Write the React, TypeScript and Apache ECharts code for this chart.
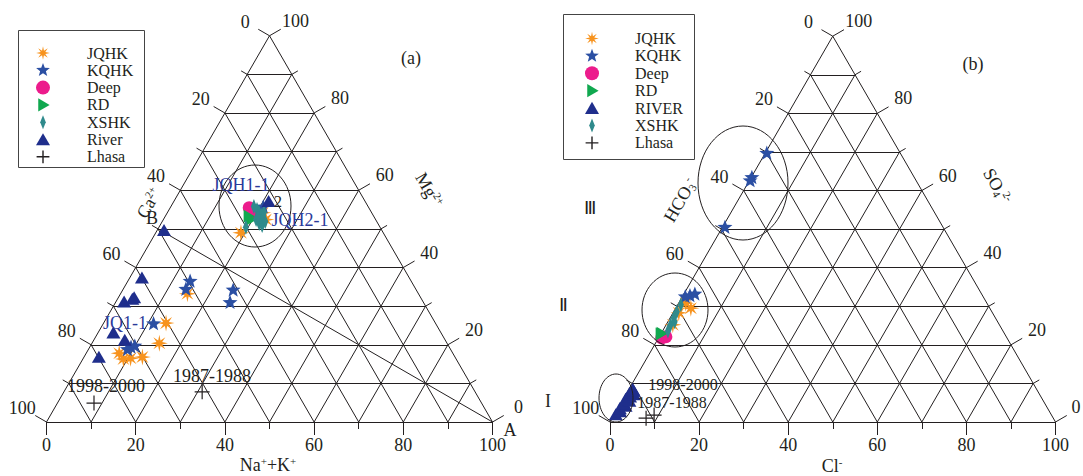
import React, { useEffect, useRef } from 'react';
import * as echarts from 'echarts';

// ---------- DATA ----------
// Panel (a): each point = [Na+ + K+ (%), Mg2+ (%)], Ca2+ = 100 - both
const jqhkA = [[15.0, 33.2], [14.0, 25.6], [15.1, 20.4], [7.4, 17.8], [9.1, 16.3], [10.6, 16.5], [13.1, 16.8], [19.1, 49.0], [21.4, 54.2], [23.0, 52.4]];
const kqhkA = [[13.9, 36.6], [14.0, 34.5], [24.7, 34.3], [25.6, 31.1], [11.2, 25.6], [9.2, 19.5], [9.9, 19.8], [8.7, 18.9], [20.7, 55.8]];
const deepA = [[17.7, 55.5], [18.6, 54.5]];
const rdA = [[18.8, 53.3], [19.7, 52.4]];
const xshkA = [[18.6, 55.8], [19.7, 55.0], [20.5, 54.3], [21.4, 53.5], [22.2, 52.7], [20.8, 52.4], [22.0, 51.4], [22.9, 50.9], [23.1, 51.9], [19.5, 50.4], [20.8, 53.2], [21.6, 54.3]];
const riverA = [[1.5, 49.7], [2.7, 37.4], [3.5, 32.3], [1.8, 31.2], [3.3, 31.9], [3.4, 23.2], [6.9, 21.3], [3.3, 16.9], [21.2, 57.2]];
const lhasaA = [[8.2, 4.9], [31.0, 7.8]];
const mixLineA = [[0, 50], [100, 0]]; // B -> A

// Panel (b): each point = [Cl- (%), SO4 2- (%)], HCO3- = 100 - both
const jqhkB = [[3.4, 29.5], [1.6, 30.8], [1.3, 28.3], [1.5, 25.2]];
const kqhkB = [[0.3, 69.8], [0.1, 63.5], [0.1, 62.7], [0.5, 50.6], [1.5, 32.9], [0.6, 32.6], [2.4, 33.3]];
const deepB = [[1.5, 22.1], [0.7, 21.8]];
const rdB = [[0.2, 23.0], [0.1, 22.8]];
const riverB = [[0.3, 2.0], [0.9, 2.8], [0.4, 3.6], [1.4, 4.2], [0.7, 4.9], [1.6, 5.5], [0.5, 6.0], [1.2, 6.6], [1.8, 7.2], [0.6, 7.6], [1.3, 8.1], [0.8, 8.6]];
const xshkB = [[0.7, 30.4], [0.7, 28.6], [0.8, 27.0], [1.0, 25.2], [1.2, 23.6], [1.5, 26.0]];
const lhasaB = [[7.6, 1.0], [9.0, 1.8]];

const tickValues = [0, 10, 20, 30, 40, 50, 60, 70, 80, 90, 100];
const labelValues = [0, 20, 40, 60, 80, 100];
const legendA = ['JQHK', 'KQHK', 'Deep', 'RD', 'XSHK', 'River', 'Lhasa'];
const legendB = ['JQHK', 'KQHK', 'Deep', 'RD', 'RIVER', 'XSHK', 'Lhasa'];

// ---------- LAYOUT / STYLE ----------
const SQ = Math.sqrt(3) / 2;
const BASE = 422;
const PANELS = [{ left: 46.5, width: 446 }, { left: 610, width: 445.5 }];
const SERIF = '"Liberation Serif", "Times New Roman", serif';
const INK = '#231f20';

const COLORS: Record<string, string> = {
  JQHK: '#F7931E', KQHK: '#2B4FA3', Deep: '#EC1C8C', RD: '#10A84F',
  XSHK: '#2F8A8C', River: '#1F2E8C', RIVER: '#1F2E8C', Lhasa: INK,
};

function polyD(n: number, inner: number, rot: number) {
  const pts: string[] = [];
  for (let i = 0; i < n * 2; i++) {
    const r = i % 2 === 0 ? 10 : 10 * inner;
    const a = rot + (i * Math.PI) / n;
    pts.push((r * Math.cos(a)).toFixed(2) + ',' + (r * Math.sin(a)).toFixed(2));
  }
  return 'M' + pts.join(' L') + ' Z';
}
// centred symbol outlines (coords in -10..10)
const SHAPES: Record<string, string> = {
  JQHK: polyD(8, 0.36, -Math.PI / 2),
  KQHK: polyD(5, 0.42, -Math.PI / 2),
  Deep: 'M-10,0 A10,10 0 1,0 10,0 A10,10 0 1,0 -10,0 Z',
  RD: 'M-7.2,-10 L10,0 L-7.2,10 Z',
  XSHK: 'M0,-10 L4,0 L0,10 L-4,0 Z',
  River: 'M0,-9 L10,8.3 L-10,8.3 Z',
  RIVER: 'M0,-9 L10,8.3 L-10,8.3 Z',
  Lhasa: 'M-0.8,-10 H0.8 V-0.8 H10 V0.8 H0.8 V10 H-0.8 V0.8 H-10 V-0.8 H-0.8 Z',
};
const LEG_SHAPES: Record<string, string> = {
  ...SHAPES,
  Lhasa: 'M-1.1,-10 H1.1 V-1.1 H10 V1.1 H1.1 V10 H-1.1 V1.1 H-10 V-1.1 H-1.1 Z',
};
const SIZES: Record<string, number> = { JQHK: 17, KQHK: 15, Deep: 13, RD: 13, XSHK: 15, River: 14, RIVER: 14, Lhasa: 15 };
const LEG_SCALE: Record<string, number> = { JQHK: 0.68, KQHK: 0.72, Deep: 0.7, RD: 0.66, XSHK: 0.7, River: 0.7, RIVER: 0.7, Lhasa: 0.64 };

Object.keys(LEG_SHAPES).forEach((k) => {
  echarts.graphic.registerShape('leg_' + k, echarts.graphic.extendPath(LEG_SHAPES[k], {}) as any);
});

const toXY = (p: number[]) => [p[0] + p[1] / 2, p[1] * SQ];
const toPx = (panel: number, xy: number[]) => {
  const s = PANELS[panel].width / 100;
  return [PANELS[panel].left + xy[0] * s, BASE - xy[1] * s];
};

function gridSegments() {
  const segs: number[][][] = [];
  for (let k = 0; k < 100; k += 10) {
    segs.push([toXY([0, k]), toXY([100 - k, k])]);
    segs.push([toXY([k, 0]), toXY([k, 100 - k])]);
    segs.push([toXY([100 - k, 0]), toXY([0, 100 - k])]);
  }
  return segs;
}
function tickSegments(panel: number) {
  const s = PANELS[panel].width / 100;
  const segs: number[][][] = [];
  tickValues.forEach((v) => {
    const len = (v % 20 === 0 ? 13 : 7) / s;
    segs.push([[v, 0], [v, -len]]);
    const L = toXY([0, 100 - v]);
    segs.push([L, [L[0] - len * SQ, L[1] + len * 0.5]]);
    const R = toXY([100 - v, v]);
    segs.push([R, [R[0] + len * SQ, R[1] + len * 0.5]]);
  });
  return segs;
}

function text(x: number, y: number, t: string, extra: any = {}) {
  return {
    type: 'text', x, y, rotation: extra.rotation || 0, z: 50,
    style: {
      text: t, fill: extra.fill || INK, fontSize: extra.fontSize || 18, fontFamily: SERIF,
      align: extra.align || 'center', verticalAlign: 'middle', rich: extra.rich,
    },
  };
}
const RICH = {
  n: { fontSize: 18, fontFamily: SERIF, fill: INK, lineHeight: 20 },
  s: { fontSize: 11, fontFamily: SERIF, fill: INK, lineHeight: 11, verticalAlign: 'top' },
  b: { fontSize: 11, fontFamily: SERIF, fill: INK, lineHeight: 11, verticalAlign: 'bottom' },
};

function tickLabels(panel: number) {
  const out: any[] = [];
  labelValues.forEach((v) => {
    const b = toPx(panel, [v, 0]);
    out.push(text(b[0], b[1] + 23, String(v)));
    const L = toPx(panel, toXY([0, 100 - v]));
    out.push(text(L[0] - 28 * SQ, L[1] - 14, String(v)));
    const R = toPx(panel, toXY([100 - v, v]));
    out.push(text(Math.min(R[0] + 30 * SQ, 1076), R[1] - 15, String(v)));
  });
  return out;
}

function legendBlock(names: string[], box: number[], symX: number, txtX: number, y0: number, dy: number) {
  const out: any[] = [
    { type: 'rect', shape: { x: box[0], y: box[1], width: box[2], height: box[3] }, style: { fill: '#fff', stroke: '#444', lineWidth: 1 }, z: 40 },
  ];
  names.forEach((n, i) => {
    const y = y0 + i * dy;
    out.push({ type: 'leg_' + n, x: symX, y, scaleX: LEG_SCALE[n], scaleY: LEG_SCALE[n], style: { fill: COLORS[n] }, z: 45 });
    out.push(text(txtX, y, n, { align: 'left', fontSize: 16 }));
  });
  return out;
}

function scatter(name: string, data: number[][], panel: number) {
  return {
    type: 'scatter', name, xAxisIndex: panel, yAxisIndex: panel, clip: false, z: 5,
    data: data.map(toXY), symbol: 'path://' + SHAPES[name], symbolSize: SIZES[name], symbolKeepAspect: true,
    itemStyle: { color: COLORS[name], opacity: 1 },
  };
}

function buildOption() {
  const grids = PANELS.map((p) => ({ left: p.left, top: BASE - p.width * SQ, width: p.width, height: p.width * SQ }));
  const xAxis = PANELS.map((_, i) => ({ type: 'value', gridIndex: i, min: 0, max: 100, show: false }));
  const yAxis = PANELS.map((_, i) => ({ type: 'value', gridIndex: i, min: 0, max: 100 * SQ, show: false }));
  const series: any[] = [];
  [0, 1].forEach((i) => {
    series.push({
      type: 'lines', coordinateSystem: 'cartesian2d', xAxisIndex: i, yAxisIndex: i, clip: false, silent: true, z: 1,
      lineStyle: { color: INK, width: 1, opacity: 1 },
      data: gridSegments().concat(tickSegments(i)).map((c) => ({ coords: c })),
    });
  });
  series.push({
    type: 'line', xAxisIndex: 0, yAxisIndex: 0, data: mixLineA.map(toXY), symbol: 'none', silent: true, z: 1,
    lineStyle: { color: INK, width: 1 },
  });
  series.push(scatter('JQHK', jqhkA, 0), scatter('KQHK', kqhkA, 0), scatter('Deep', deepA, 0), scatter('RD', rdA, 0),
    scatter('XSHK', xshkA, 0), scatter('River', riverA, 0), scatter('Lhasa', lhasaA, 0));
  series.push(scatter('JQHK', jqhkB, 1), scatter('KQHK', kqhkB, 1), scatter('Deep', deepB, 1), scatter('RD', rdB, 1),
    scatter('RIVER', riverB, 1), scatter('XSHK', xshkB, 1), scatter('Lhasa', lhasaB, 1));

  const graphic: any[] = [
    ...legendBlock(legendA, [18.5, 30.5, 126, 137], 43, 87, 53, 17.3),
    ...legendBlock(legendB, [563.5, 14.5, 131, 145], 592, 635, 38.5, 17.4),
    { type: 'ellipse', shape: { cx: 255, cy: 206, rx: 36, ry: 41 }, style: { fill: 'none', stroke: INK, lineWidth: 1 }, z: 10 },
    { type: 'ellipse', shape: { cx: 743, cy: 183, rx: 45, ry: 57 }, style: { fill: 'none', stroke: INK, lineWidth: 1 }, z: 10 },
    { type: 'ellipse', shape: { cx: 675, cy: 310, rx: 33, ry: 37 }, style: { fill: 'none', stroke: INK, lineWidth: 1 }, z: 10 },
    { type: 'ellipse', shape: { cx: 616, cy: 398, rx: 17, ry: 24 }, style: { fill: 'none', stroke: INK, lineWidth: 1 }, z: 10 },
    ...tickLabels(0), ...tickLabels(1),
    // panel (a)
    text(411, 58, '(a)'),
    text(152, 218, 'B'),
    text(510, 430, 'A'),
    text(241, 185, 'JQH1-1', { fill: '#2B3A9A' }),
    text(300, 220, 'JQH2-1', { fill: '#2B3A9A' }),
    text(278, 201, '2', { fontSize: 16 }),
    text(125, 323, 'JQ1-1', { fill: '#2B3A9A' }),
    text(106, 386, '1998-2000'),
    text(212, 376, '1987-1988'),
    text(149, 203, '{n|Ca}{s|2+}', { rich: RICH, rotation: Math.PI / 3 }),
    text(429, 190, '{n|Mg}{s|2+}', { rich: RICH, rotation: -Math.PI / 3 }),
    text(268, 465, '{n|Na}{s|+}{n|+K}{s|+}', { rich: RICH }),
    // panel (b)
    text(973, 64, '(b)'),
    text(590, 208, '\u2162'),
    text(563, 305, '\u2161'),
    text(548, 401, 'I'),
    text(683, 384, '1998-2000', { fontSize: 16 }),
    text(672, 402, '1987-1988', { fontSize: 16 }),
    text(680, 200, '{n|HCO}{b|3}{s|-}', { rich: RICH, rotation: Math.PI / 3 }),
    text(997, 186, '{n|SO}{b|4}{s|2-}', { rich: RICH, rotation: -Math.PI / 3 }),
    text(832, 466, '{n|Cl}{s|-}', { rich: RICH }),
  ];

  return { animation: false, backgroundColor: '#fff', grid: grids, xAxis, yAxis, series, graphic };
}

export default function App() {
  const ref = useRef<HTMLDivElement>(null);
  useEffect(() => {
    const chart = echarts.init(ref.current!, null, { renderer: 'svg' });
    chart.setOption(buildOption() as any);
    return () => chart.dispose();
  }, []);
  return <div ref={ref} style={{ position: 'absolute', left: 0, top: 0, width: 1083, height: 476 }} />;
}
